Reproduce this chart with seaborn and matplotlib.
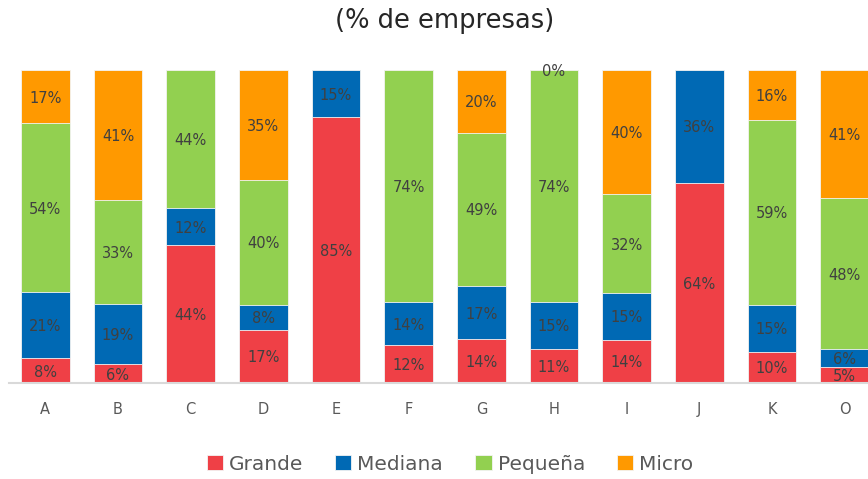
import numpy as np
import pandas as pd
import matplotlib
matplotlib.use("Agg")
import matplotlib.pyplot as plt
import seaborn as sns

# --- datos (% de empresas) ---
sectores = ["A", "B", "C", "D", "E", "F", "G", "H", "I", "J", "K", "O"]
grande = [8, 6, 44, 17, 85, 12, 14, 11, 14, 64, 10, 5]
mediana = [21, 19, 12, 8, 15, 14, 17, 15, 15, 36, 15, 6]
pequena = [54, 33, 44, 40, np.nan, 74, 49, 74, 32, np.nan, 59, 48]
micro = [17, 41, np.nan, 35, np.nan, np.nan, 20, 0, 40, np.nan, 16, 41]

series = ["Grande", "Mediana", "Pequeña", "Micro"]
colores = {"Grande": "#EF4046", "Mediana": "#0069B4",
           "Pequeña": "#92D050", "Micro": "#FF9900"}

df = pd.DataFrame({"sector": sectores, "Grande": grande, "Mediana": mediana,
                   "Pequeña": pequena, "Micro": micro})
vals = df[series].fillna(0)
# barras al 100%
norm = vals.div(vals.sum(axis=1), axis=0) * 100
cum = norm.cumsum(axis=1)

sns.set_style("white")
plt.rcParams["font.family"] = ["DejaVu Sans"]

fig = plt.figure(figsize=(8.68, 4.79), dpi=100)
ax = fig.add_axes([9 / 868, 1 - 383 / 479, 872 / 868, 313 / 479])

# apilado: se dibuja el acumulado de arriba hacia abajo
for s in reversed(series):
    sns.barplot(x=df["sector"], y=cum[s], color=colores[s], width=0.67,
                saturation=1, edgecolor="#f4f4f4", linewidth=0.6, ax=ax,
                label=s)

# etiquetas de datos
for i in range(len(sectores)):
    for s in series:
        v = df.loc[i, s]
        if pd.isna(v):
            continue
        top = cum.loc[i, s]
        y = top - norm.loc[i, s] / 2
        ax.text(i, y - 0.5, f"{int(v)}%", ha="center", va="center",
                fontsize=10.5, color="#404040")

ax.set_ylim(0, 100)
ax.set_xlim(-0.5, 11.5)
ax.set_yticks([])
ax.set_xlabel("")
ax.set_ylabel("")
for sp in ["top", "right", "left"]:
    ax.spines[sp].set_visible(False)
ax.spines["bottom"].set_color("#d9d9d9")
ax.spines["bottom"].set_linewidth(1.5)
ax.tick_params(axis="x", length=0, pad=14, labelsize=10.5, labelcolor="#595959")

fig.text(445 / 868, 1 - 21 / 479, "(% de empresas)", ha="center", va="center",
         fontsize=18.5, color="#262626")

handles, labels = ax.get_legend_handles_labels()
orden = [labels.index(s) for s in series]
fig.legend([handles[k] for k in orden], series, loc="center",
           bbox_to_anchor=(450 / 868, 1 - 464 / 479), ncol=4, frameon=False,
           fontsize=14.5, labelcolor="#595959", handlelength=0.8,
           handleheight=0.8, handletextpad=0.3, columnspacing=1.6)
if ax.get_legend() is not None:
    ax.get_legend().remove()

fig.savefig("out.png", dpi=100)
